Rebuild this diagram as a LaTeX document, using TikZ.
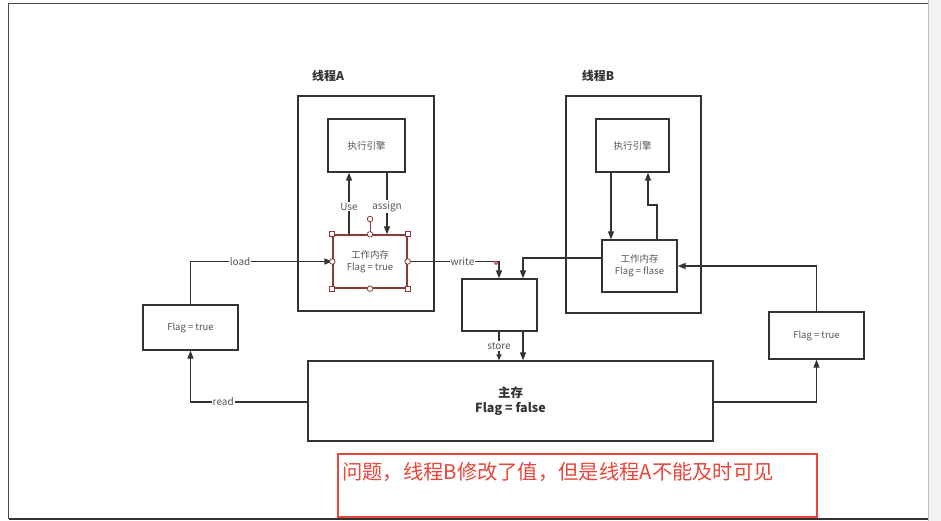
\documentclass[tikz,border=0pt]{standalone}
\usepackage{fontspec}
\setmainfont{Noto Sans CJK SC}
\usetikzlibrary{arrows.meta}
\definecolor{ln}{HTML}{333333}
\definecolor{tx}{HTML}{555555}
\definecolor{sel}{HTML}{8B3A3A}
\definecolor{redtx}{HTML}{E8463A}
\tikzset{
  box/.style={draw=ln, line width=1.3pt, rectangle, inner sep=0pt, fill=white, text=tx, font=\fontsize{9.5}{12}\selectfont, align=center},
  arr/.style={draw=ln, line width=1.3pt, -{Triangle[length=8pt,width=6pt]}},
  conn/.style={draw=ln, line width=1.3pt},
  lbl/.style={fill=white, text=tx, font=\fontsize{10}{11}\selectfont, inner sep=1pt},
  title/.style={font=\bfseries\fontsize{12}{14}\selectfont, text=ln},
  hsq/.style={draw=sel, fill=white, line width=0.8pt, minimum size=5pt, inner sep=0pt, rectangle},
  hci/.style={draw=sel, fill=white, line width=0.8pt, minimum size=5.5pt, inner sep=0pt, circle}
}
\begin{document}
\begin{tikzpicture}[x=1pt,y=-1pt]
\useasboundingbox (0,0) rectangle (941,521);
% screen frame
\fill[white] (0,0) rectangle (941,521);
\fill[black!5] (928,0) rectangle (941,521);
\draw[black!70, line width=1.2pt] (8.5,519) -- (8.5,3.5) -- (928,3.5);
\draw[black!80, line width=1.5pt] (8.5,519) -- (928,519);
\draw[black!25, line width=0.8pt] (928,0) -- (928,521);

% thread containers
\node[title] (tA) at (328,76) {线程A};
\node[title] (tB) at (598,76) {线程B};
\node[box, minimum width=136pt, minimum height=215pt] (thA) at (366,203.5) {};
\node[box, minimum width=135pt, minimum height=217pt] (thB) at (633.5,204.5) {};

% execution engines
\node[box, minimum width=77pt, minimum height=53pt] (engA) at (366.5,145.5) {执行引擎};
\node[box, minimum width=73pt, minimum height=53pt] (engB) at (632.5,145.5) {执行引擎};

% working memories
\node[box, draw=sel, minimum width=74pt, minimum height=53pt] (wmA) at (370,261.5) {工作内存\\Flag = true};
\node[box, minimum width=75pt, minimum height=52pt] (wmB) at (639.5,266) {工作内存\\Flag = flase};

% other boxes
\node[box, minimum width=95pt, minimum height=45pt] (lf) at (190.5,327.5) {Flag = true};
\node[box, minimum width=95pt, minimum height=47pt] (rf) at (816.5,335.5) {Flag = true};
\node[box, minimum width=75pt, minimum height=52pt] (mid) at (499.5,305) {};
\node[box, minimum width=405pt, minimum height=80pt, text=ln, font=\bfseries\fontsize{12.5}{15}\selectfont] (main) at (510.5,401) {主存\\Flag = false};

% annotation
\node[draw=redtx, line width=1.2pt, minimum width=479pt, minimum height=63pt, inner sep=0pt] (note) at (577.5,485.5) {};
\node[anchor=west, text=redtx, font=\fontsize{20.3}{23}\selectfont, inner sep=0pt] (notetx) at (342,472) {问题，线程B修改了值，但是线程A不能及时可见};

% thread A internal arrows
\draw[arr] (wmA.north -| 349,0) -- node[lbl, pos=0.45]{Use} (engA.south -| 349,0);
\draw[arr] (engA.south -| 387,0) -- node[lbl, pos=0.55]{assign} (wmA.north -| 387,0);

% thread B internal arrows
\draw[arr] (engB.south -| 611,0) -- (wmB.north -| 611,0);
\draw[arr] (wmB.north -| 657,0) -- (657,205) -- (648,205) -- (engB.south -| 648,0);

% load / read
\draw[arr] (lf.north) |- node[lbl, pos=0.675]{load} (wmA.west);
\draw[arr] (main.west |- 0,402) -| node[lbl, pos=0.36]{read} (lf.south);

% write
\draw[arr] (wmA.east) -| node[lbl, pos=0.3]{write} (mid.north -| 499,0);
\fill[red!70!black!60] (496,263) circle (2pt);
\draw[arr] (wmB.west |- 0,258) -| (mid.north -| 523,0);

% store
\draw[arr, -{Triangle[length=6pt,width=5pt]}] (mid.south -| 499,0) -- node[lbl, pos=0.5]{store} (main.north -| 499,0);
\draw[arr] (mid.south -| 523,0) -- (main.north -| 523,0);

% right side
\draw[arr] (main.east |- 0,402) -| (rf.south);
\draw[arr] (rf.north) |- (wmB.east |- 0,266);

% selection handles on wmA
\draw[sel, line width=0.8pt] (wmA.north) -- (370,219);
\node[hci] (h0) at (370,219) {};
\node[hsq] (h1) at (wmA.north west) {};
\node[hsq] (h2) at (wmA.north east) {};
\node[hsq] (h3) at (wmA.south west) {};
\node[hsq] (h4) at (wmA.south east) {};
\node[hci] (h5) at (wmA.north) {};
\node[hci] (h6) at (wmA.south) {};
\node[hci] (h7) at (wmA.west) {};
\node[hci] (h8) at (wmA.east) {};
\end{tikzpicture}
\end{document}
